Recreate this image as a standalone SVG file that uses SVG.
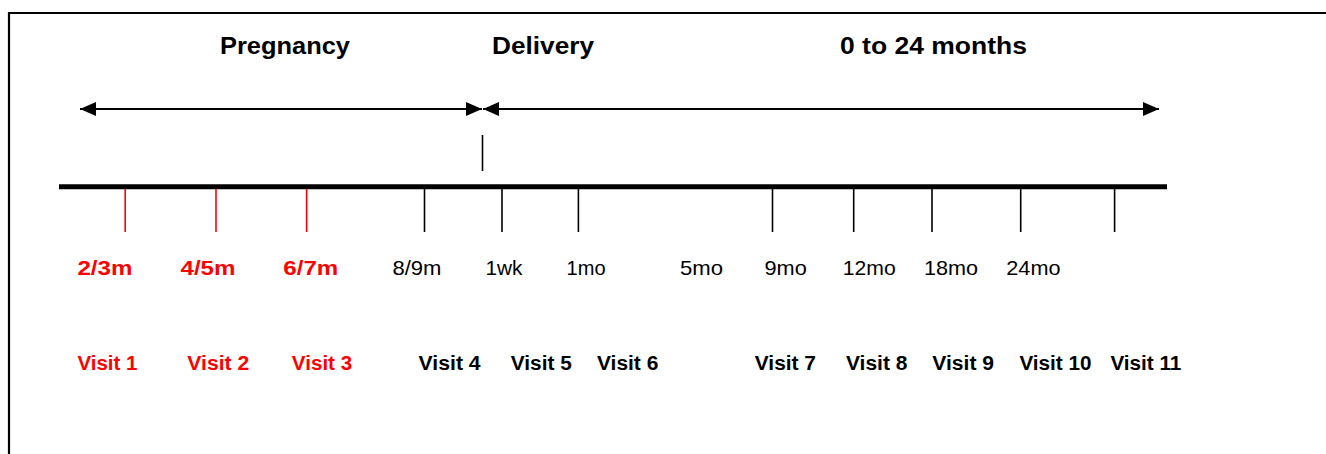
<svg xmlns="http://www.w3.org/2000/svg" width="1326" height="454" viewBox="0 0 1326 454">
<style>
.hdr{font-family:"Liberation Sans",Arial,sans-serif;font-weight:bold;font-size:23px;fill:#000}
.lbl{font-family:"Liberation Sans",Arial,sans-serif;font-size:21px;fill:#000}
.lblr{font-family:"Liberation Sans",Arial,sans-serif;font-size:21px;font-weight:bold;fill:#ff0000}
.vis{font-family:"Liberation Sans",Arial,sans-serif;font-size:20px;font-weight:bold;fill:#000}
.visr{font-family:"Liberation Sans",Arial,sans-serif;font-size:20px;font-weight:bold;fill:#ff0000}
.tick{stroke:#000;stroke-width:1.6}
.tickr{stroke:#ff0000;stroke-width:1.6}
.arr{stroke:#000;stroke-width:2;fill:none;marker-start:url(#ah);marker-end:url(#ah)}
</style>
<defs>
<marker id="ah" markerUnits="userSpaceOnUse" markerWidth="16" markerHeight="14" refX="16" refY="7" orient="auto-start-reverse">
<path d="M0,0 L16,7 L0,14 z" fill="#000"/>
</marker>
</defs>
<rect width="1326" height="454" fill="#fff"/>
<path d="M9,454 V13 H1326" fill="none" stroke="#000" stroke-width="2.2"/>
<g id="headers">
<text id="pregnancy" class="hdr" x="220" y="54" textLength="130" lengthAdjust="spacingAndGlyphs">Pregnancy</text>
<text id="delivery" class="hdr" x="492" y="54" textLength="102" lengthAdjust="spacingAndGlyphs">Delivery</text>
<text id="months" class="hdr" x="840" y="54" textLength="187" lengthAdjust="spacingAndGlyphs">0 to 24 months</text>
</g>
<g id="connectors">
<line class="arr" x1="80" y1="109" x2="482" y2="109"/>
<line class="arr" x1="483" y1="109" x2="1159" y2="109"/>
<line class="tick" x1="482.5" y1="135" x2="482.5" y2="171"/>
<line x1="59" y1="186.8" x2="1167" y2="186.8" stroke="#000" stroke-width="5"/>
</g>
<g id="visit1"><line class="tickr" x1="125.2" y1="189" x2="125.2" y2="232"/><text class="lblr" x="77.4" y="275" textLength="55" lengthAdjust="spacingAndGlyphs">2/3m</text><text class="visr" x="77.4" y="370" textLength="60" lengthAdjust="spacingAndGlyphs">Visit 1</text></g>
<g id="visit2"><line class="tickr" x1="216" y1="189" x2="216" y2="232"/><text class="lblr" x="180.5" y="275" textLength="55" lengthAdjust="spacingAndGlyphs">4/5m</text><text class="visr" x="187.3" y="370" textLength="62" lengthAdjust="spacingAndGlyphs">Visit 2</text></g>
<g id="visit3"><line class="tickr" x1="306.6" y1="189" x2="306.6" y2="232"/><text class="lblr" x="283.3" y="275" textLength="55" lengthAdjust="spacingAndGlyphs">6/7m</text><text class="visr" x="291.8" y="370" textLength="60.4" lengthAdjust="spacingAndGlyphs">Visit 3</text></g>
<g id="visit4"><line class="tick" x1="424.5" y1="189" x2="424.5" y2="232"/><text class="lbl" x="392.4" y="275" textLength="49" lengthAdjust="spacingAndGlyphs">8/9m</text><text class="vis" x="418.6" y="370" textLength="62" lengthAdjust="spacingAndGlyphs">Visit 4</text></g>
<g id="visit5"><line class="tick" x1="502" y1="189" x2="502" y2="232"/><text class="lbl" x="485.4" y="275" textLength="37" lengthAdjust="spacingAndGlyphs">1wk</text><text class="vis" x="510.8" y="370" textLength="61" lengthAdjust="spacingAndGlyphs">Visit 5</text></g>
<g id="visit6"><line class="tick" x1="578.4" y1="189" x2="578.4" y2="232"/><text class="lbl" x="566.6" y="275" textLength="39" lengthAdjust="spacingAndGlyphs">1mo</text><text class="vis" x="597" y="370" textLength="61.3" lengthAdjust="spacingAndGlyphs">Visit 6</text></g>
<g id="label-5mo"><text class="lbl" x="680" y="275" textLength="43" lengthAdjust="spacingAndGlyphs">5mo</text></g>
<g id="visit7"><line class="tick" x1="772.5" y1="189" x2="772.5" y2="232"/><text class="lbl" x="764.5" y="275" textLength="42.3" lengthAdjust="spacingAndGlyphs">9mo</text><text class="vis" x="754.8" y="370" textLength="61.2" lengthAdjust="spacingAndGlyphs">Visit 7</text></g>
<g id="visit8"><line class="tick" x1="853.7" y1="189" x2="853.7" y2="232"/><text class="lbl" x="842.7" y="275" textLength="53" lengthAdjust="spacingAndGlyphs">12mo</text><text class="vis" x="846" y="370" textLength="61.4" lengthAdjust="spacingAndGlyphs">Visit 8</text></g>
<g id="visit9"><line class="tick" x1="932" y1="189" x2="932" y2="232"/><text class="lbl" x="923.9" y="275" textLength="54" lengthAdjust="spacingAndGlyphs">18mo</text><text class="vis" x="932.3" y="370" textLength="61.7" lengthAdjust="spacingAndGlyphs">Visit 9</text></g>
<g id="visit10"><line class="tick" x1="1020.7" y1="189" x2="1020.7" y2="232"/><text class="lbl" x="1006.3" y="275" textLength="54.2" lengthAdjust="spacingAndGlyphs">24mo</text><text class="vis" x="1019.4" y="370" textLength="72" lengthAdjust="spacingAndGlyphs">Visit 10</text></g>
<g id="visit11"><line class="tick" x1="1114.6" y1="189" x2="1114.6" y2="232"/><text class="vis" x="1110.4" y="370" textLength="71" lengthAdjust="spacingAndGlyphs">Visit 11</text></g>
</svg>
